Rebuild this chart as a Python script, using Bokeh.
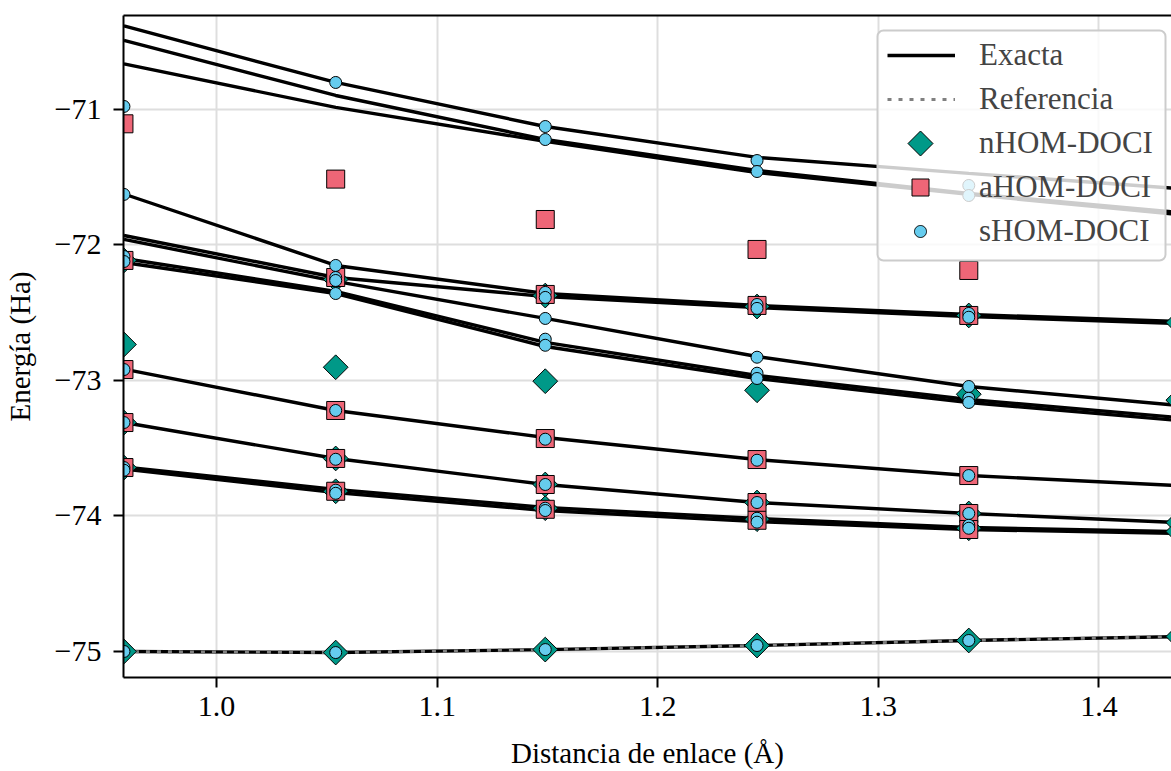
import numpy as np
from bokeh.plotting import figure
from bokeh.models import (Range1d, FixedTicker, LinearAxis, Legend, LegendItem,
                          PolyAnnotation, BoxAnnotation)
from bokeh.embed import file_html
from bokeh.resources import INLINE

nan = float("nan")

# Bond distances (Å)
distancia = [0.958, 1.054, 1.149, 1.245, 1.341, 1.436]

# Exact energies (Ha), one list per electronic state
exacta = [
    [-70.386, -70.803, -71.128, -71.356, -71.474, -71.585],
    [-70.493, -70.899, -71.224, -71.452, -71.622, -71.762],
    [-70.666, -70.987, -71.238, -71.467, -71.629, -71.777],
    [-71.626, -72.153, -72.360, -72.448, -72.515, -72.566],
    [-71.932, -72.242, -72.382, -72.463, -72.530, -72.581],
    [-71.961, -72.271, -72.544, -72.825, -73.046, -73.186],
    [-72.102, -72.345, -72.721, -72.965, -73.142, -73.275],
    [-72.131, -72.360, -72.751, -72.987, -73.164, -73.297],
    [-72.918, -73.223, -73.422, -73.585, -73.703, -73.777],
    [-73.312, -73.577, -73.769, -73.902, -73.983, -74.050],
    [-73.640, -73.806, -73.939, -74.020, -74.086, -74.116],
    [-73.656, -73.828, -73.961, -74.042, -74.101, -74.131],
    [-75.001, -75.009, -74.987, -74.957, -74.920, -74.891],
]

# Reference ground-state curve (Ha)
referencia = [-75.001, -75.009, -74.987, -74.957, -74.920, -74.891]

# nHOM-DOCI energies (Ha)
nhom = [
    [-75.001, -75.009, -74.987, -74.957, -74.920, -74.891],
    [-72.116, -72.256, -72.375, -72.456, -72.522, -72.574],
    [-72.736, -72.904, -73.007, -73.074, -73.103, -73.147],
    [-73.312, -73.577, -73.769, -73.902, -73.983, -74.050],
    [-73.644, -73.819, -73.944, -74.025, -74.092, -74.116],
]

# aHOM-DOCI energies (Ha)
ahom = [
    [-71.108, -71.516, -71.814, -72.035, -72.190, nan],
    [-72.116, -72.242, -72.367, -72.448, -72.522, nan],
    [-72.921, -73.223, -73.430, -73.585, -73.703, nan],
    [-73.312, -73.577, -73.769, -73.902, -73.983, nan],
    [-73.644, -73.819, -73.952, -74.033, -74.101, nan],
]

# sHOM-DOCI energies (Ha)
shom = [
    [-70.980, -70.803, -71.128, -71.379, -71.563, nan],
    [nan, nan, -71.224, -71.460, -71.637, nan],
    [-71.629, -72.153, -72.352, -72.441, -72.507, nan],
    [-72.087, -72.242, -72.389, -72.470, -72.535, nan],
    [-72.124, -72.264, -72.544, -72.830, -73.046, nan],
    [nan, -72.360, -72.697, -72.948, -73.133, nan],
    [nan, nan, -72.742, -72.987, -73.164, nan],
    [-72.921, -73.223, -73.435, -73.590, -73.703, nan],
    [-73.312, -73.583, -73.769, -73.902, -73.983, nan],
    [-73.644, -73.811, -73.944, -74.018, -74.070, nan],
    [-73.664, -73.834, -73.961, -74.047, -74.092, nan],
    [-75.001, -75.009, -74.987, -74.957, -74.920, nan],
]

x_ticks = [1.0, 1.1, 1.2, 1.3, 1.4]
y_ticks = [-75, -74, -73, -72, -71]

FONT = "Liberation Serif"
TEAL, RED, CYAN = "#009988", "#EE6677", "#66CCEE"


def flatten(states):
    xs, ys = [], []
    for st in states:
        for xv, yv in zip(distancia, st):
            xs.append(xv)
            ys.append(yv)
    return xs, ys


p = figure(
    width=1171, height=771,
    x_range=Range1d(0.9578, 1.4329), y_range=Range1d(-75.193, -70.309),
    output_backend="svg", toolbar_location=None,
    min_border_left=123, min_border_right=0,
    min_border_top=15, min_border_bottom=94,
)
p.outline_line_color = None
p.background_fill_color = "white"

# axes
p.xaxis.ticker = FixedTicker(ticks=x_ticks)
p.xaxis.major_label_overrides = {t: f"{t:.1f}" for t in x_ticks}
p.yaxis.ticker = FixedTicker(ticks=y_ticks)
p.yaxis.major_label_overrides = {t: f"\u2212{abs(t)}" for t in y_ticks}
p.xaxis.axis_label = "Distancia de enlace (Å)"
p.yaxis.axis_label = "Energía (Ha)"
for ax in (p.xaxis[0], p.yaxis[0]):
    ax.axis_line_width = 2
    ax.axis_line_color = "black"
    ax.major_tick_line_width = 2
    ax.major_tick_out = 10
    ax.major_tick_in = 0
    ax.minor_tick_line_color = None
    ax.major_label_text_font = FONT
    ax.major_label_text_font_size = "30px"
    ax.major_label_text_color = "black"
    ax.axis_label_text_font = FONT
    ax.axis_label_text_font_size = "29px"
    ax.axis_label_text_font_style = "normal"
    ax.axis_label_text_color = "black"
p.xaxis.major_label_standoff = 9
p.xaxis.axis_label_standoff = 18
p.yaxis.major_label_standoff = 12
p.yaxis.axis_label_standoff = 16

# top spine
top = LinearAxis(ticker=FixedTicker(ticks=[]), axis_line_width=2, axis_line_color="black",
                 major_tick_line_color=None, minor_tick_line_color=None,
                 major_label_text_font_size="0px")
p.add_layout(top, "above")

p.xgrid.ticker = FixedTicker(ticks=x_ticks)
p.ygrid.ticker = FixedTicker(ticks=y_ticks)
for g in (p.xgrid[0], p.ygrid[0]):
    g.grid_line_color = "#dedede"
    g.grid_line_width = 2

# exact curves and reference
r_ex = p.multi_line(xs=[distancia] * len(exacta), ys=exacta, line_color="black", line_width=3.4)
r_ref = p.line(distancia, referencia, line_color="#808080", line_width=2.8, line_dash="4 7")

# method markers
nx, ny = flatten(nhom)
p.scatter(nx, ny, marker="square", angle=np.pi / 4, size=17.5,
          fill_color=TEAL, line_color="black", line_width=1)
ax_, ay_ = flatten(ahom)
p.scatter(ax_, ay_, marker="square", size=18,
          fill_color=RED, line_color="black", line_width=1)
sx, sy = flatten(shom)
p.scatter(sx, sy, marker="circle", size=12,
          fill_color=CYAN, line_color="black", line_width=1)

# legend frame (semi-transparent, rounded)
p.add_layout(BoxAnnotation(
    left=754, right=1042, bottom=417, top=647,
    left_units="screen", right_units="screen", bottom_units="screen", top_units="screen",
    fill_color="white", fill_alpha=0.8, line_color="#cccccc", line_alpha=1,
    line_width=2, border_radius=6, level="annotation"))

# placeholders that keep room for the marker keys in the legend
blank = dict(fill_alpha=0, line_alpha=0)
k_n = p.scatter(x=[], y=[], **blank)
k_a = p.scatter(x=[], y=[], **blank)
k_s = p.scatter(x=[], y=[], **blank)

legend = Legend(
    items=[
        LegendItem(label="Exacta", renderers=[r_ex]),
        LegendItem(label="Referencia", renderers=[r_ref]),
        LegendItem(label="nHOM-DOCI", renderers=[k_n]),
        LegendItem(label="aHOM-DOCI", renderers=[k_a]),
        LegendItem(label="sHOM-DOCI", renderers=[k_s]),
    ],
    location=(764, 428),
    label_text_font=FONT, label_text_font_size="31px",
    glyph_width=68, glyph_height=36, label_height=36,
    label_standoff=24, padding=6, spacing=8, margin=0,
    border_line_color=None, background_fill_alpha=0,
)
p.add_layout(legend)

# marker keys drawn in screen space on the legend rows
key_x = 797.0
rows = {"n": 534.0, "a": 490.0, "s": 446.0}
key_style = dict(xs_units="screen", ys_units="screen", fill_alpha=1, line_alpha=1,
                 line_color="black", line_width=1, level="overlay")

d = 12.5
p.add_layout(PolyAnnotation(
    xs=[key_x, key_x + d, key_x, key_x - d], ys=[rows["n"] + d, rows["n"], rows["n"] - d, rows["n"]],
    fill_color=TEAL, **key_style))
h = 8.5
p.add_layout(PolyAnnotation(
    xs=[key_x - h, key_x + h, key_x + h, key_x - h], ys=[rows["a"] - h, rows["a"] - h, rows["a"] + h, rows["a"] + h],
    fill_color=RED, **key_style))
t = np.linspace(0, 2 * np.pi, 40, endpoint=False)
rad = 6.0
p.add_layout(PolyAnnotation(
    xs=list(key_x + rad * np.cos(t)), ys=list(rows["s"] + rad * np.sin(t)),
    fill_color=CYAN, **key_style))

open("out.html", "w").write(file_html(p, INLINE))
